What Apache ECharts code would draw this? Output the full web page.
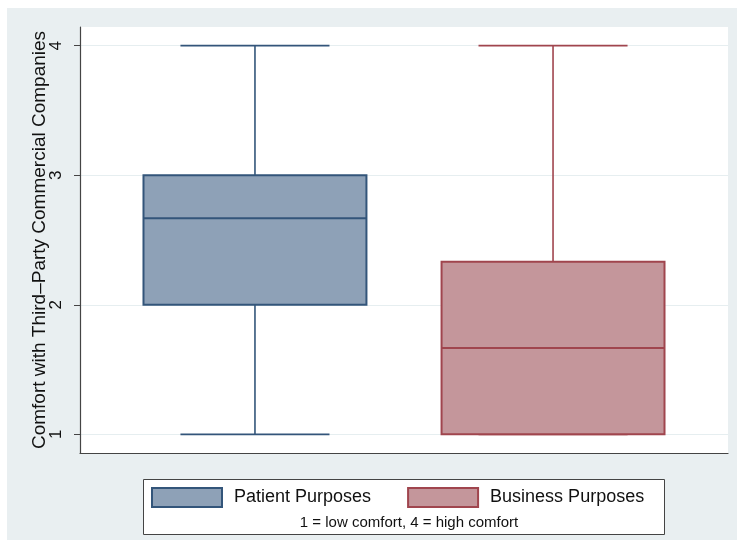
<!DOCTYPE html>
<html>
<head>
<meta charset="utf-8">
<script src="https://cdn.jsdelivr.net/npm/echarts@6/dist/echarts.min.js"></script>
<style>
html,body{margin:0;padding:0;background:#fff;}
#chart{width:737px;height:540px;}
</style>
</head>
<body>
<div id="chart"></div>
<script>
// ---- data ----
var categories = ['Patient Purposes', 'Business Purposes'];
var mins    = [1, 1];
var q1s     = [2, 1];
var medians = [2.667, 1.667];
var q3s     = [3, 2.333];
var maxs    = [4, 4];
var yTicks  = [1, 2, 3, 4];
var yTitle  = 'Comfort with Third\u2013Party Commercial Companies';
var note    = '1 = low comfort, 4 = high comfort';

var fills   = ['#8ea1b7', '#c4969b'];
var borders = ['#33557a', '#a0454e'];
var FONT = '"Liberation Sans", Arial, Helvetica, sans-serif';
var X_MIN = 0.413, X_MAX = 2.587;

function renderBox(params, api) {
  var x = api.value(0);
  var pMin = api.coord([x, api.value(1)]);
  var pQ1  = api.coord([x, api.value(2)]);
  var pMed = api.coord([x, api.value(3)]);
  var pQ3  = api.coord([x, api.value(4)]);
  var pMax = api.coord([x, api.value(5)]);
  var unit = api.size([1, 0])[0];
  var hb = unit * 0.374, hc = unit * 0.25;
  var cx = pMed[0];
  var st = api.style();
  var lineStyle = { stroke: st.stroke, lineWidth: 1.6 };
  return {
    type: 'group',
    children: [
      { type: 'line', shape: { x1: cx, y1: pMax[1], x2: cx, y2: pQ3[1] }, style: lineStyle },
      { type: 'line', shape: { x1: cx, y1: pQ1[1], x2: cx, y2: pMin[1] }, style: lineStyle },
      { type: 'line', shape: { x1: cx - hc, y1: pMax[1], x2: cx + hc, y2: pMax[1] }, style: lineStyle },
      { type: 'line', shape: { x1: cx - hc, y1: pMin[1], x2: cx + hc, y2: pMin[1] }, style: lineStyle },
      { type: 'rect', shape: { x: cx - hb, y: pQ3[1], width: 2 * hb, height: pQ1[1] - pQ3[1] },
        style: { fill: st.fill, stroke: st.stroke, lineWidth: 2 } },
      { type: 'line', shape: { x1: cx - hb, y1: pMed[1], x2: cx + hb, y2: pMed[1] },
        style: { stroke: st.stroke, lineWidth: 2 } }
    ]
  };
}

function renderTickLabel(params, api) {
  var v = api.value(0);
  var p = api.coord([X_MIN, v]);
  return {
    type: 'text',
    x: p[0] - 24, y: p[1],
    rotation: Math.PI / 2,
    style: { text: String(v), font: '17px ' + FONT, fill: '#111', align: 'center', verticalAlign: 'middle' }
  };
}

var series = categories.map(function (name, i) {
  return {
    name: name,
    type: 'custom',
    renderItem: renderBox,
    itemStyle: { color: fills[i], borderColor: borders[i] },
    encode: { x: 0, y: [1, 2, 3, 4, 5] },
    data: [[i + 1, mins[i], q1s[i], medians[i], q3s[i], maxs[i]]]
  };
});
series.push({
  name: 'yTickLabels',
  type: 'custom',
  clip: false,
  silent: true,
  renderItem: renderTickLabel,
  encode: { y: 0 },
  data: yTicks.map(function (t) { return [t]; })
});

var chart = echarts.init(document.getElementById('chart'), null, { renderer: 'canvas' });
chart.setOption({
  animation: false,
  backgroundColor: '#ffffff',
  graphic: [
    { type: 'rect', z: -10, shape: { x: 7, y: 8, width: 730, height: 532 }, style: { fill: '#e9eff1' } },
    { type: 'rect', z: 5, shape: { x: 143.5, y: 479.5, width: 521, height: 55 }, style: { fill: '#ffffff', stroke: '#444', lineWidth: 1 } },
    { type: 'text', z: 10, style: { text: note, x: 409, y: 523, align: 'center', verticalAlign: 'middle', font: '15px ' + FONT, fill: '#111' } }
  ],
  grid: {
    left: 80, top: 27, right: 9, bottom: 87,
    show: true, backgroundColor: '#ffffff', borderWidth: 0
  },
  legend: {
    z: 20,
    left: 151, top: 487,
    padding: 0,
    itemWidth: 70, itemHeight: 19,
    itemGap: 36,
    icon: 'rect',
    textStyle: { fontSize: 18, fontFamily: FONT, color: '#111', padding: [0, 0, 0, 7] },
    data: categories.map(function (c, i) {
      return { name: c, itemStyle: { color: fills[i], borderColor: borders[i], borderWidth: 2 } };
    })
  },
  xAxis: {
    type: 'value', min: X_MIN, max: X_MAX,
    axisLine: { show: true, onZero: false, lineStyle: { color: '#444', width: 1.2 } },
    axisTick: { show: false }, axisLabel: { show: false }, splitLine: { show: false }
  },
  yAxis: {
    type: 'value', min: 0.856, max: 4.144,
    name: yTitle, nameLocation: 'middle', nameGap: 31,
    nameTextStyle: { fontSize: 19, fontFamily: FONT, color: '#111' },
    axisLine: { show: true, onZero: false, lineStyle: { color: '#444', width: 1.2 } },
    axisTick: { show: true, length: 6, customValues: yTicks, lineStyle: { color: '#444' } },
    axisLabel: { show: false },
    splitLine: { show: true, lineStyle: { color: '#e6eef0', width: 1.2 } }
  },
  series: series
});
</script>
</body>
</html>
